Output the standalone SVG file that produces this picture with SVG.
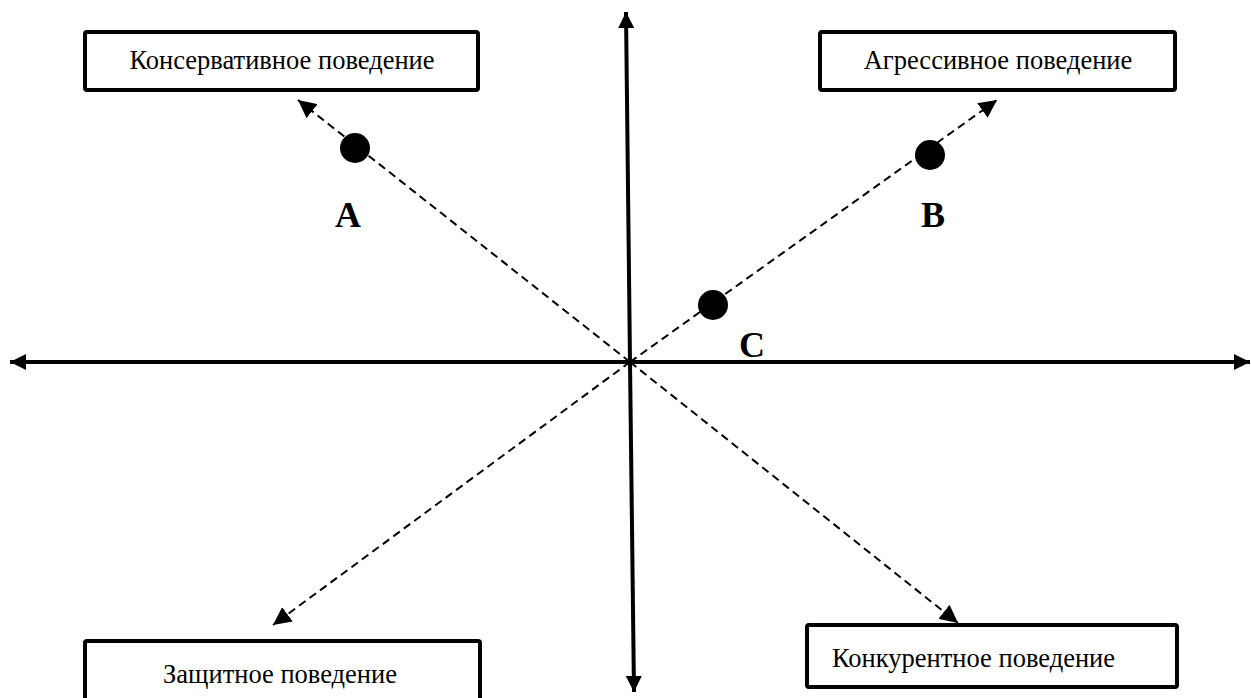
<svg xmlns="http://www.w3.org/2000/svg" width="1251" height="698" viewBox="0 0 1251 698">
<style>
.box{fill:#fff;stroke:#000;stroke-width:4}
.lbl{font-family:"Liberation Serif",serif;font-size:26.5px;fill:#000}
.pt{font-family:"Liberation Serif",serif;font-size:36px;font-weight:bold;fill:#000}
.axis{stroke:#000;stroke-width:4;fill:none}
.dash{stroke:#000;stroke-width:2;stroke-dasharray:8 5;fill:none}
</style>
<defs>
<marker id="ah" viewBox="0 0 10 10" refX="10" refY="5" markerWidth="4.2" markerHeight="4" orient="auto" markerUnits="strokeWidth"><path d="M0,0L10,5L0,10z" fill="#000"/></marker>
<marker id="dh" viewBox="0 0 10 10" refX="10" refY="5" markerWidth="9" markerHeight="9" orient="auto" markerUnits="strokeWidth"><path d="M0,0L10,5L0,10z" fill="#000"/></marker>
</defs>
<rect width="1251" height="698" fill="#fff"/>
<g id="connectors">
<line class="axis" x1="630" y1="362" x2="10" y2="362" marker-end="url(#ah)"/>
<line class="axis" x1="630" y1="362" x2="1250" y2="362" marker-end="url(#ah)"/>
<line class="axis" x1="630" y1="362" x2="626" y2="12" marker-end="url(#ah)"/>
<line class="axis" x1="630" y1="362" x2="634" y2="692" marker-end="url(#ah)"/>
<line class="dash" x1="630" y1="362" x2="298" y2="100" marker-end="url(#dh)"/>
<line class="dash" x1="630" y1="362" x2="997" y2="100" marker-end="url(#dh)"/>
<line class="dash" x1="630" y1="362" x2="273" y2="625" marker-end="url(#dh)"/>
<line class="dash" x1="630" y1="362" x2="958" y2="623" marker-end="url(#dh)"/>
</g>
<g id="conservative"><rect class="box" x="85" y="32" width="393" height="58" rx="2"/><text class="lbl" x="282" y="69" text-anchor="middle">Консервативное поведение</text></g>
<g id="aggressive"><rect class="box" x="820" y="32" width="355" height="58" rx="2"/><text class="lbl" x="998" y="69" text-anchor="middle">Агрессивное поведение</text></g>
<g id="defensive"><rect class="box" x="85" y="641" width="395" height="70" rx="2"/><text class="lbl" x="280" y="683" text-anchor="middle">Защитное поведение</text></g>
<g id="competitive"><rect class="box" x="807" y="625" width="370" height="62" rx="2"/><text class="lbl" x="832" y="667">Конкурентное поведение</text></g>
<g id="pointA"><circle cx="355" cy="148" r="15"/><text class="pt" x="348" y="227" text-anchor="middle">A</text></g>
<g id="pointB"><circle cx="930" cy="155" r="15"/><text class="pt" x="933" y="227" text-anchor="middle">B</text></g>
<g id="pointC"><circle cx="713" cy="305" r="15"/><text class="pt" x="752" y="357" text-anchor="middle">C</text></g>
</svg>
